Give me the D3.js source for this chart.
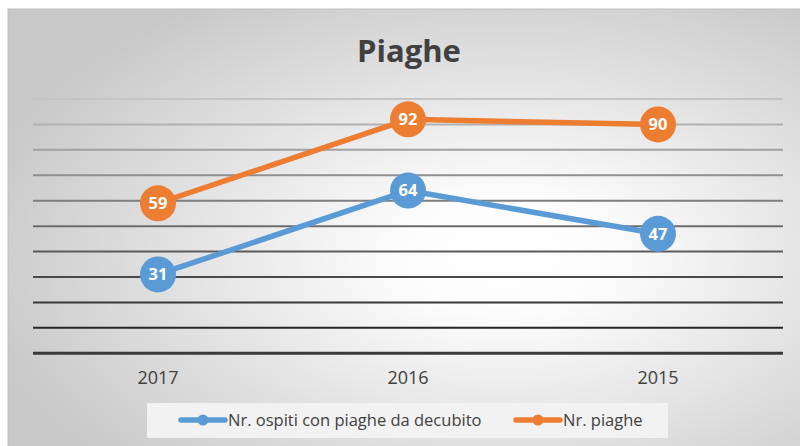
<!DOCTYPE html>
<html><head><meta charset="utf-8">
<script src="https://cdn.jsdelivr.net/npm/d3@7"></script>
<style>html,body{margin:0;padding:0;background:#fff;}svg{display:block;}</style>
</head><body>
<svg id="c" width="800" height="446"></svg>
<script>
const categories = ["2017", "2016", "2015"];
const seriesNames = ["Nr. ospiti con piaghe da decubito", "Nr. piaghe"];
const ospiti = [31, 64, 47];
const piaghe = [59, 92, 90];
const yTicks = [0, 10, 20, 30, 40, 50, 60, 70, 80, 90, 100];
const colors = ["#5b9bd5", "#ed7d31"];
const title = "Piaghe";

const svg = d3.select("#c");
const defs = svg.append("defs");
const rg = defs.append("radialGradient").attr("id", "bg")
  .attr("cx", 0.62).attr("cy", 0.55).attr("r", 0.68).attr("fx", 0.62).attr("fy", 0.55);
rg.append("stop").attr("offset", 0).attr("stop-color", "#ffffff");
rg.append("stop").attr("offset", 0.2).attr("stop-color", "#fcfcfc");
rg.append("stop").attr("offset", 1).attr("stop-color", "#c8c8c8");

svg.append("rect").attr("x", 8).attr("y", 9).attr("width", 800).attr("height", 446)
  .attr("fill", "url(#bg)").attr("stroke", "#bfbfbf").attr("stroke-width", 1);

const font = "'Open Sans', 'Noto Sans', sans-serif";
svg.append("text").attr("x", 409).attr("y", 62).attr("text-anchor", "middle")
  .attr("font-family", font).attr("font-weight", "bold").attr("font-size", 31)
  .attr("fill", "#404040").text(title);

const x = d3.scaleBand().domain(categories).range([33, 783]);
const y = d3.scaleLinear().domain([0, 100]).range([353.3, 99]);

const gridColor = d3.scaleLinear().domain([10, 100]).range(["#262626", "#c4c4c4"]);
svg.append("g").selectAll("line").data(yTicks.filter(d => d > 0)).join("line")
  .attr("x1", 33).attr("x2", 783).attr("y1", d => y(d)).attr("y2", d => y(d))
  .attr("stroke", d => gridColor(d)).attr("stroke-width", 2);

const xAxis = svg.append("g").attr("transform", `translate(0,${y(0)})`)
  .call(d3.axisBottom(x).tickSize(0).tickPadding(18));
xAxis.select(".domain").attr("stroke", "#3a3a3a").attr("stroke-width", 3).attr("d", "M33,0H783");
xAxis.selectAll("text").attr("font-family", font).attr("font-size", 18).attr("fill", "#404040");

const series = [ospiti, piaghe];
const line = d3.line().x((d, i) => x(categories[i]) + x.bandwidth() / 2).y(d => y(d));
series.forEach((s, k) => {
  const g = svg.append("g");
  g.append("path").datum(s).attr("d", line).attr("fill", "none")
    .attr("stroke", colors[k]).attr("stroke-width", 5.5).attr("stroke-linejoin", "round");
  g.selectAll("circle").data(s).join("circle")
    .attr("cx", (d, i) => x(categories[i]) + x.bandwidth() / 2).attr("cy", d => y(d))
    .attr("r", 18).attr("fill", colors[k]);
  g.selectAll("text").data(s).join("text")
    .attr("x", (d, i) => x(categories[i]) + x.bandwidth() / 2).attr("y", d => y(d))
    .attr("dy", "0.36em").attr("text-anchor", "middle")
    .attr("font-family", font).attr("font-weight", "bold").attr("font-size", 16.5)
    .attr("fill", "#ffffff").text(d => d);
});

// legend
const lg = svg.append("g");
lg.append("rect").attr("x", 147).attr("y", 403).attr("width", 521).attr("height", 35).attr("fill", "#f2f2f2");
const legendX = [181, 516];
seriesNames.forEach((n, k) => {
  const lx = legendX[k];
  lg.append("line").attr("x1", lx).attr("x2", lx + 44).attr("y1", 420).attr("y2", 420)
    .attr("stroke", colors[k]).attr("stroke-width", 5.5).attr("stroke-linecap", "round");
  lg.append("circle").attr("cx", lx + 22).attr("cy", 420).attr("r", 5.5).attr("fill", colors[k]);
  lg.append("text").attr("x", lx + 47).attr("y", 420).attr("dy", "0.35em")
    .attr("font-family", font).attr("font-size", 16.5).attr("fill", "#404040").text(n);
});
</script>
</body></html>
